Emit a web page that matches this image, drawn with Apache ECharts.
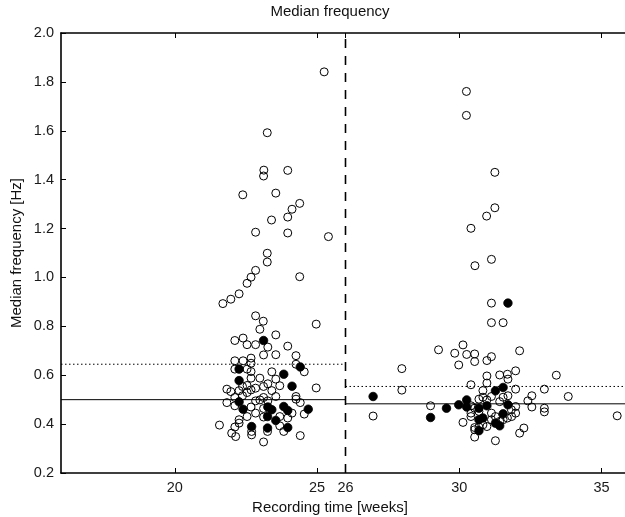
<!DOCTYPE html>
<html>
<head>
<meta charset="utf-8">
<script src="https://cdn.jsdelivr.net/npm/echarts@6/dist/echarts.min.js"></script>
<style>
html, body { margin: 0; padding: 0; background: #fff; }
#chart { width: 625px; height: 517px; }
</style>
</head>
<body>
<div id="chart"></div>
<script>
// recording weeks / median freq, open markers
var openWeeks = [
	25.25,23.25,23.13,23.12,23.97,22.39,23.55,24.39,24.12,23.97,23.40,22.84,23.97,25.40,23.25,23.25,22.84,22.68,24.39,22.54,
	22.26,21.97,21.69,22.84,23.11,22.99,24.97,23.55,22.11,22.40,22.54,22.84,23.27,23.97,23.12,23.55,24.26,22.11,22.40,22.68,
	22.68,24.26,24.55,22.11,22.54,22.68,23.41,22.68,22.99,23.55,22.54,22.84,23.12,23.27,23.69,21.83,21.97,22.26,22.38,22.54,
	22.68,23.41,24.97,22.11,22.38,23.12,23.55,24.26,24.26,21.83,22.84,22.99,23.27,24.41,22.11,22.68,23.12,24.55,24.12,22.84,
	22.54,23.12,23.69,23.97,22.26,21.57,22.11,22.26,22.70,22.70,23.26,23.69,23.83,22.00,22.14,24.41,23.12,
	30.25,30.25,31.25,31.25,30.96,30.41,31.13,30.55,31.13,31.13,31.54,30.13,29.27,29.84,30.26,30.54,32.12,31.13,30.97,29.98,
	30.54,27.98,33.41,30.97,31.42,31.69,31.98,31.71,30.97,30.41,27.98,30.83,31.98,32.99,32.55,33.83,32.41,32.55,32.99,32.99,
	26.97,28.99,35.55,30.13,30.54,31.27,32.12,32.27,30.54,30.83,30.83,31.13,31.71,31.98,31.98,31.13,31.54,30.97,30.41,30.54,
	30.69,30.97,31.42,31.54,31.83,31.84,30.41,30.69,30.41,30.69,30.54,31.27,31.13,31.42,31.69
];
var openFreq = [
	1.841,1.592,1.439,1.415,1.438,1.338,1.345,1.303,1.279,1.247,1.235,1.185,1.182,1.167,1.099,1.063,1.029,1.001,1.003,0.976,
	0.933,0.911,0.893,0.843,0.821,0.788,0.809,0.765,0.742,0.752,0.725,0.725,0.715,0.719,0.683,0.684,0.680,0.659,0.659,0.670,
	0.649,0.645,0.614,0.625,0.625,0.615,0.614,0.588,0.588,0.584,0.558,0.547,0.554,0.565,0.557,0.543,0.533,0.537,0.554,0.529,
	0.540,0.537,0.548,0.509,0.516,0.509,0.513,0.513,0.502,0.488,0.495,0.499,0.495,0.488,0.475,0.470,0.464,0.441,0.445,0.445,
	0.431,0.429,0.431,0.425,0.418,0.396,0.388,0.404,0.370,0.356,0.370,0.393,0.370,0.363,0.349,0.353,0.327,
	1.761,1.663,1.430,1.285,1.251,1.201,1.074,1.048,0.895,0.815,0.815,0.724,0.704,0.690,0.685,0.687,0.700,0.676,0.660,0.642,
	0.656,0.627,0.600,0.597,0.601,0.604,0.618,0.584,0.568,0.561,0.539,0.537,0.543,0.543,0.516,0.513,0.495,0.470,0.465,0.450,
	0.433,0.475,0.434,0.407,0.347,0.332,0.363,0.384,0.386,0.397,0.510,0.513,0.516,0.472,0.445,0.445,0.418,0.390,0.475,0.465,
	0.502,0.499,0.492,0.510,0.459,0.431,0.431,0.452,0.445,0.388,0.377,0.431,0.418,0.411,0.425
];
// filled markers
var filledWeeks = [
	23.12,24.41,22.26,23.83,22.26,24.12,22.26,22.40,23.27,23.41,23.83,23.97,24.69,23.26,23.55,22.70,23.26,23.97,
	31.71,31.27,31.54,26.97,28.99,29.55,29.98,30.26,30.26,30.69,30.97,30.83,30.69,31.54,31.71,31.27,31.42,30.69
];
var filledFreq = [
	0.742,0.634,0.625,0.604,0.578,0.555,0.491,0.461,0.470,0.459,0.472,0.456,0.461,0.431,0.415,0.390,0.384,0.386,
	0.895,0.536,0.550,0.513,0.427,0.465,0.479,0.499,0.470,0.465,0.475,0.425,0.418,0.442,0.479,0.404,0.393,0.373
];

var xTicks = [20, 25, 26, 30, 35];
var splitWeek = 26;
var medianLeft = 0.5, medianRight = 0.483;	// solid lines
var dottedLeft = 0.645, dottedRight = 0.554;	// dotted lines
var xMin = 16, xMax = 36, yMin = 0.2, yMax = 2.0;

var pts = function(xs, ys){
	var r = [];
	for(var i=0;i<xs.length;i++){ r.push([xs[i], ys[i]]); }
	return r;
};

var font = "'Liberation Sans', Arial, sans-serif";
var chart = echarts.init(document.getElementById("chart"), null, {renderer: "canvas"});

var hline = function(x0, x1, y, type){
	return {
		type: "line", data: [[x0, y], [x1, y]], symbol: "none", silent: true,
		lineStyle: {color: "#000", width: 1, type: type}, z: 3
	};
};

option = {
	animation: false,
	backgroundColor: "#fff",
	grid: {left: 61, top: 33, width: 569, height: 440, containLabel: false, outerBoundsMode: "none"},
	xAxis: [{
		type: "value", min: xMin, max: xMax, position: "bottom",
		axisLine: {show: true, lineStyle: {color: "#000", width: 1.6}},
		splitLine: {show: false},
		axisTick: {show: true, inside: true, length: 5, customValues: xTicks, lineStyle: {color: "#000"}},
		axisLabel: {customValues: xTicks, color: "#1a1a1a", fontSize: 14.5, fontFamily: font, margin: 7}
	},{
		type: "value", min: xMin, max: xMax, position: "top",
		axisLine: {show: true, lineStyle: {color: "#000", width: 1.6}},
		splitLine: {show: false},
		axisTick: {show: true, inside: true, length: 5, customValues: xTicks, lineStyle: {color: "#000"}},
		axisLabel: {show: false}
	}],
	yAxis: {
		type: "value", min: yMin, max: yMax, interval: 0.2,
		axisLine: {show: true, lineStyle: {color: "#000", width: 1.6}},
		splitLine: {show: false},
		axisTick: {show: true, inside: true, length: 5, lineStyle: {color: "#000"}},
		axisLabel: {color: "#1a1a1a", fontSize: 14.5, fontFamily: font, margin: 7,
			formatter: function(v){ return v.toFixed(1); }}
	},
	graphic: [
		{type: "text", x: 330, y: 12, style: {text: "Median frequency", fill: "#111", font: "15px " + font, align: "center", verticalAlign: "middle"}},
		{type: "text", x: 330, y: 508, style: {text: "Recording time [weeks]", fill: "#111", font: "15px " + font, align: "center", verticalAlign: "middle"}},
		{type: "text", x: 17, y: 253, rotation: Math.PI/2, style: {text: "Median frequency [Hz]", fill: "#111", font: "15px " + font, align: "center", verticalAlign: "middle"}}
	],
	series: [
		{
			type: "line", data: [[splitWeek, yMin], [splitWeek, yMax]], symbol: "none", silent: true,
			lineStyle: {color: "#000", width: 1.6, type: [9, 8]}, z: 3
		},
		hline(xMin, splitWeek, medianLeft, "solid"),
		hline(splitWeek, xMax, medianRight, "solid"),
		hline(xMin, splitWeek, dottedLeft, [1.5, 2.5]),
		hline(splitWeek, xMax, dottedRight, [1.5, 2.5]),
		{
			type: "scatter", data: pts(openWeeks, openFreq), symbol: "circle", symbolSize: 8,
			itemStyle: {color: "rgba(0,0,0,0)", borderColor: "#000", borderWidth: 1, opacity: 1}, z: 4
		},
		{
			type: "scatter", data: pts(filledWeeks, filledFreq), symbol: "circle", symbolSize: 8.5,
			itemStyle: {color: "#000", borderColor: "#000", borderWidth: 0.8, opacity: 1}, z: 5
		}
	]
};
chart.setOption(option, true);
</script>
</body>
</html>
